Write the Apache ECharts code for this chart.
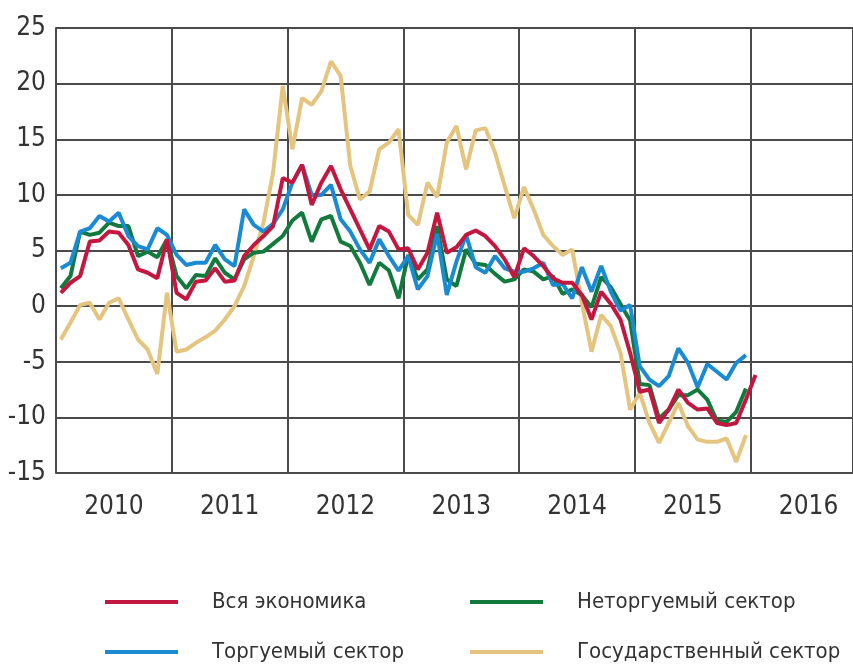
<!DOCTYPE html>
<html>
<head>
<meta charset="utf-8">
<script src="https://cdn.jsdelivr.net/npm/echarts@6/dist/echarts.min.js"></script>
<style>
  html, body { margin: 0; padding: 0; background: #fff; }
  #chart { width: 853px; height: 667px; }
</style>
</head>
<body>
<div id="chart"></div>
<script>
// monthly values, Jan 2010 onwards (point i sits in the middle of month i)
var years = [2010, 2011, 2012, 2013, 2014, 2015, 2016];

var allEconomy = [
  1.2, 2.1, 2.7, 5.8, 5.9, 6.7, 6.6, 5.5, 3.3, 3.0, 2.5, 6.0,
  1.2, 0.6, 2.2, 2.3, 3.4, 2.2, 2.3, 4.5, 5.5, 6.3, 7.2, 11.5,
  11.1, 12.7, 9.1, 11.1, 12.6, 10.5, 8.7, 6.9, 5.1, 7.2, 6.7, 5.1,
  5.2, 3.3, 4.8, 8.4, 4.8, 5.3, 6.4, 6.8, 6.3, 5.4, 4.2, 2.6,
  5.2, 4.5, 3.6, 2.5, 2.1, 2.1, 1.0, -1.2, 1.3, 0.2, -1.2, -4.2,
  -7.7, -7.5, -10.5, -9.3, -7.5, -8.7, -9.3, -9.2, -10.5, -10.7, -10.5, -8.4,
  -6.2
];
var tradable = [
  3.4, 3.9, 6.7, 7.0, 8.1, 7.6, 8.4, 6.3, 5.4, 5.1, 7.0, 6.4,
  4.6, 3.7, 3.9, 3.9, 5.5, 4.2, 3.6, 8.7, 7.3, 6.7, 7.4, 8.7,
  11.1, 12.7, 10.0, 10.0, 10.9, 7.8, 6.7, 5.1, 3.9, 6.0, 4.5, 3.2,
  4.5, 1.5, 2.7, 6.5, 1.0, 4.0, 6.4, 3.5, 3.0, 4.5, 3.4, 3.1,
  3.1, 3.4, 3.9, 1.9, 2.0, 0.7, 3.5, 1.3, 3.6, 1.3, -0.4, 0.1,
  -5.4, -6.6, -7.2, -6.3, -3.8, -5.1, -7.3, -5.2, -5.9, -6.6, -5.1, -4.4
];
var nonTradable = [
  1.6, 2.7, 6.7, 6.4, 6.6, 7.5, 7.2, 7.2, 4.5, 4.9, 4.4, 6.0,
  2.7, 1.6, 2.8, 2.7, 4.3, 3.0, 2.4, 4.2, 4.8, 4.9, 5.6, 6.3,
  7.7, 8.4, 5.8, 7.8, 8.1, 5.8, 5.4, 3.9, 1.9, 3.9, 3.2, 0.7,
  4.6, 2.4, 3.3, 7.2, 2.4, 1.8, 5.1, 3.8, 3.7, 2.9, 2.2, 2.4,
  3.3, 3.1, 2.4, 2.7, 1.1, 1.5, 1.0, -0.1, 2.6, 1.7, 0.2, -1.3,
  -7.0, -7.1, -10.1, -9.3, -8.0, -8.0, -7.5, -8.4, -10.3, -10.4, -9.5, -7.4
];
var government = [
  -3.0, -1.5, 0.1, 0.3, -1.2, 0.3, 0.7, -1.2, -3.0, -3.9, -6.1, 1.2,
  -4.1, -3.9, -3.3, -2.8, -2.2, -1.2, 0.0, 1.8, 4.5, 7.5, 12.0, 19.8,
  14.1, 18.7, 18.1, 19.3, 22.0, 20.7, 12.6, 9.6, 10.3, 14.1, 14.7, 15.9,
  8.2, 7.3, 11.1, 9.8, 14.7, 16.2, 12.3, 15.8, 16.0, 13.8, 10.8, 7.9,
  10.7, 8.7, 6.4, 5.4, 4.6, 5.1, 0.3, -4.1, -0.8, -1.8, -4.2, -9.3,
  -7.8, -10.5, -12.3, -10.5, -8.7, -10.8, -12.0, -12.2, -12.2, -11.9, -14.0, -11.6
];

var names = ['Вся экономика', 'Торгуемый сектор', 'Неторгуемый сектор', 'Государственный сектор'];
var colors = ['#c3173f', '#1a8bd3', '#127a3c', '#e5c47f'];

var FONT = '"Liberation Sans Narrow", "DejaVu Sans Condensed", sans-serif';

function toPoints(arr) {
  return arr.map(function (v, i) { return [i + 0.5, v]; });
}

// one legend per entry so the 2x2 block sits where the original has it
function legendAt(name, left, centerY) {
  return {
    data: [name],
    left: left,
    top: centerY - 15,
    padding: 0,
    icon: 'rect',
    itemWidth: 73,
    itemHeight: 4,
    textStyle: {fontSize: 22, lineHeight: 30, color: '#333', fontFamily: FONT, padding: [0, 0, 0, 29]}
  };
}

var chart = echarts.init(document.getElementById('chart'), null, {renderer: 'canvas'});

var gridLine = {color: '#4a4a4a', width: 2};

chart.setOption({
  animation: false,
  backgroundColor: '#fff',
  grid: {left: 56, right: 0, top: 28, bottom: 194},
  xAxis: [{
    type: 'value',
    position: 'bottom',
    min: 0,
    max: 82.6,
    interval: 12,
    axisLine: {show: true, lineStyle: gridLine},
    axisTick: {show: false},
    axisLabel: {show: false},
    splitLine: {show: true, lineStyle: gridLine}
  }, {
    type: 'value',
    position: 'bottom',
    min: 0,
    max: 82.6,
    interval: 6,
    axisLine: {show: false},
    axisTick: {show: false},
    splitLine: {show: false},
    axisLabel: {
      margin: 21,
      color: '#333',
      fontSize: 26,
      fontFamily: FONT,
      showMaxLabel: false,
      formatter: function (v) {
        if (v % 12 !== 6) return '';
        return String(years[(v - 6) / 12]);
      }
    }
  }],
  yAxis: {
    type: 'value',
    min: -15,
    max: 25,
    interval: 5,
    axisLine: {show: true, lineStyle: gridLine},
    axisTick: {show: false},
    axisLabel: {margin: 10, color: '#333', fontSize: 26, fontFamily: FONT},
    splitLine: {show: true, lineStyle: gridLine}
  },
  legend: [
    legendAt(names[0], 105, 602),
    legendAt(names[1], 105, 652),
    legendAt(names[2], 470, 602),
    legendAt(names[3], 470, 652)
  ],
  series: [
    {name: names[3], data: toPoints(government), color: colors[3], z: 2},
    {name: names[2], data: toPoints(nonTradable), color: colors[2], z: 3},
    {name: names[1], data: toPoints(tradable), color: colors[1], z: 4},
    {name: names[0], data: toPoints(allEconomy), color: colors[0], z: 5}
  ].map(function (s) {
    return {
      name: s.name,
      type: 'line',
      data: s.data,
      z: s.z,
      showSymbol: false,
      symbol: 'none',
      itemStyle: {color: s.color},
      lineStyle: {color: s.color, width: 4}
    };
  })
});
</script>
</body>
</html>
